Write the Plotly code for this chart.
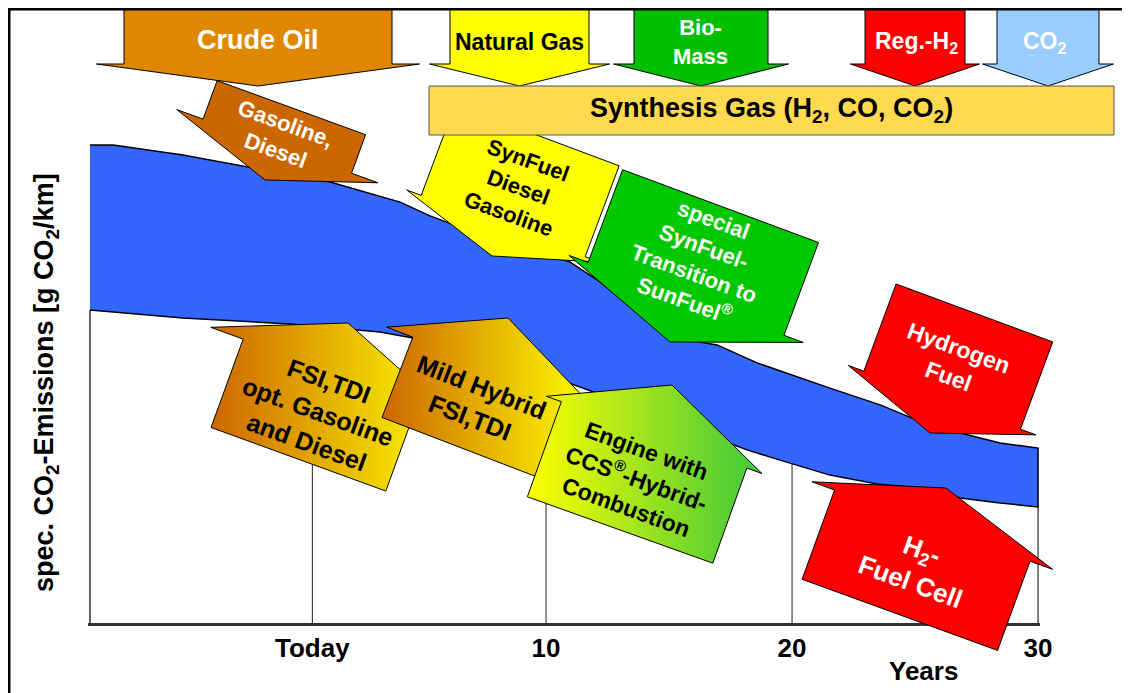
import numpy as np
import plotly.graph_objects as go

# ---------------- data (years, g CO2/km) ----------------
years_upper = [-8.54, -7.60, -4.76, -2.03, 1.22, 4.07, 5.28, 7.72, 9.76, 10.98, 12.20,
               13.82, 15.04, 16.95, 18.58, 21.54, 23.58, 24.88, 26.83, 28.46, 30.0]
co2_upper = [159.3, 159.3, 156.0, 152.0, 147.0, 140.3, 135.7, 128.3, 123.7, 120.3, 113.7,
             102.7, 95.3, 92.7, 86.7, 78.3, 72.7, 68.3, 63.3, 60.0, 58.3]
years_lower = [-8.54, -4.76, -0.41, 3.25, 4.59, 6.50, 8.54, 10.16, 11.38, 12.60, 14.63,
               16.79, 18.17, 19.51, 21.54, 23.46, 25.20, 26.83, 28.46, 30.0]
co2_lower = [104.3, 101.7, 99.7, 97.0, 95.0, 91.7, 87.0, 82.3, 78.7, 75.0, 68.3,
             62.0, 57.7, 54.3, 49.3, 46.3, 45.0, 41.7, 40.0, 38.7]
tick_years = [0.5, 10, 20, 30]
tick_labels = ["Today", "10", "20", "30"]

# ---------------- layout geometry (page pixels; the page body adds an 8px offset) ----------------
FONT = "Liberation Sans, Arial, Helvetica, sans-serif"
OFF = 8
W, H = 1130 - OFF, 693 - OFF
PLOT_L, PLOT_R, PLOT_T, PLOT_B = 88, 1040, 8, 623      # page pixel box of the plot area
ML, MR, MT, MB = PLOT_L - OFF, (W + OFF) - PLOT_R, PLOT_T - OFF, (H + OFF) - PLOT_B
PW, PH = PLOT_R - PLOT_L, PLOT_B - PLOT_T
PX_PER_YEAR = 24.6
PX_PER_UNIT = 3.0
X0 = -8.62
X1 = X0 + PW / PX_PER_YEAR
Y1 = PH / PX_PER_UNIT


def paper(px, py):
    return (px - PLOT_L) / PW, (PLOT_B - py) / PH


def to_data(px, py):
    return X0 + (px - PLOT_L) / PX_PER_YEAR, (PLOT_B - py) / PX_PER_UNIT


def arrow_pts(tip, w, lb, hw, lh, ang, up=False):
    t = np.radians(ang)
    u = np.array([np.cos(t), np.sin(t)])
    p = np.array([-np.sin(t), np.cos(t)])
    if up:
        p = -p
    T = np.array(tip, float)
    h = T - lh * p
    b = T - (lh + lb) * p
    return [T, h + hw / 2 * u, h + w / 2 * u, b + w / 2 * u,
            b - w / 2 * u, h - w / 2 * u, h - hw / 2 * u]


def path_of(pts):
    s = []
    for i, (px, py) in enumerate(pts):
        x, y = paper(px, py)
        s.append(("M" if i == 0 else "L") + f"{x:.5f},{y:.5f}")
    return " ".join(s) + " Z"


fig = go.Figure()

# gridlines up to the band
for ty in tick_years[:-1]:
    top = float(np.interp(ty, years_lower, co2_lower))
    fig.add_trace(go.Scatter(x=[ty, ty], y=[0, top], mode="lines",
                             line=dict(color="#222222", width=1), hoverinfo="skip"))
fig.add_trace(go.Scatter(x=[years_lower[0], years_lower[0]], y=[0, co2_lower[0]], mode="lines",
                         line=dict(color="#333333", width=1.5), hoverinfo="skip"))
fig.add_trace(go.Scatter(x=[tick_years[-1], tick_years[-1]], y=[0, co2_lower[-1]], mode="lines",
                         line=dict(color="#555555", width=1.5), hoverinfo="skip"))

# emission band
fig.add_trace(go.Scatter(
    x=years_upper + years_lower[::-1], y=co2_upper + co2_lower[::-1],
    mode="lines", fill="toself", fillcolor="#3366FF",
    line=dict(color="black", width=1.5), hoverinfo="skip"))

# gradient arrows (traces)
grad_arrows = [
    dict(tip=(348, 323), w=186, lb=94, hw=255, lh=51, ang=20, cs=["#CC6600", "#FFFF00"]),
    dict(tip=(508, 318), w=164, lb=86, hw=220, lh=52, ang=21, cs=["#CC6600", "#FFFF00"]),
    dict(tip=(672, 385), w=197, lb=101, hw=229, lh=53, ang=19.7, cs=["#FFFF00", "#3CC83C"]),
]
for a in grad_arrows:
    pts = arrow_pts(a["tip"], a["w"], a["lb"], a["hw"], a["lh"], a["ang"], up=True)
    pts = pts + [pts[0]]
    xs, ys = zip(*[to_data(px, py) for px, py in pts])
    fig.add_trace(go.Scatter(
        x=list(xs), y=list(ys), mode="lines", fill="toself",
        fillgradient=dict(type="horizontal", colorscale=[[0, a["cs"][0]], [1, a["cs"][1]]]),
        line=dict(color="black", width=1), hoverinfo="skip"))

shapes = []


def add_arrow(tip, w, lb, hw, lh, ang, fill, up=False):
    shapes.append(dict(type="path", xref="paper", yref="paper",
                       path=path_of(arrow_pts(tip, w, lb, hw, lh, ang, up)),
                       fillcolor=fill, line=dict(color="black", width=1), layer="above"))


# gasoline arrow (below crude oil)
add_arrow((265, 180), 158, 41, 214, 36, 20, "#CC6600")
# top feedstock arrows
for cx, bw, hw, col in [(258, 268, 323, "#DF8700"), (519.5, 139, 180, "#FFFF00"),
                        (701, 134, 175, "#00C000"), (915, 100, 129, "#FF0000"),
                        (1048, 102, 131, "#99CCFF")]:
    add_arrow((cx, 86), bw, 58, hw, 22, 0, col)
# synfuel (under box)
add_arrow((492, 256), 175, 97, 206, 32, 20.5, "#FFFF00")
# synthesis gas box
bx0, by0 = paper(429, 135)
bx1, by1 = paper(1114, 86)
shapes.append(dict(type="rect", xref="paper", yref="paper", x0=bx0, y0=by0, x1=bx1, y1=by1,
                   fillcolor="#FFD94F", line=dict(color="#555555", width=1), layer="above"))
add_arrow((670, 342), 209, 99, 250, 46, 20.4, "#00C800")
add_arrow((930, 433), 167, 93, 200, 35, 20.3, "#FF0000")
add_arrow((946, 488), 208, 95, 256, 40, 20, "#FF0000", up=True)
# outer frame (top & left visible)
fx0, fy0 = paper(9, 720)
fx1, fy1 = paper(1160, 9)
shapes.append(dict(type="rect", xref="paper", yref="paper", x0=fx0, y0=fy0, x1=fx1, y1=fy1,
                   line=dict(color="black", width=3), fillcolor="rgba(0,0,0,0)", layer="above"))

annotations = []


def ann(text, px, py, size, color="black", angle=0):
    x, y = paper(px, py)
    annotations.append(dict(text="<b>" + text + "</b>", x=x, y=y, xref="paper", yref="paper",
                            showarrow=False, xanchor="center", yanchor="middle",
                            textangle=angle, font=dict(family=FONT, size=size, color=color)))


ann("Crude Oil", 258, 40, 27, "white")
ann("Natural Gas", 519, 42, 23)
ann("Bio-<br>Mass", 700, 42, 22, "white")
ann("Reg.-H<sub>2</sub>", 916, 43, 23, "white")
ann("CO<sub>2</sub>", 1045, 42, 23, "white")
ann("Synthesis Gas (H<sub>2</sub>, CO, CO<sub>2</sub>)", 771, 110, 27)
ann("Gasoline,<br>Diesel", 280, 137, 22, "white", 20)
ann("SynFuel<br>Diesel<br>Gasoline", 518, 187, 22, "black", 20)
ann("special<br>SynFuel-<br>Transition to<br>SunFuel<sup>®</sup>", 699, 260, 22, "white", 20)
ann("Hydrogen<br>Fuel", 953, 362, 23, "white", 20)
ann("FSI,TDI<br>opt. Gasoline<br>and Diesel", 318, 411, 25, "black", 20)
ann("Mild Hybrid<br>FSI,TDI", 476, 402, 25, "black", 21)
ann("Engine with<br>CCS<sup>®</sup>-Hybrid-<br>Combustion", 636, 479, 23, "black", 20)
ann("H<sub>2</sub>-<br>Fuel Cell", 916, 566, 26, "white", 20)
ann("Years", 923, 671, 26)
ann("spec. CO<sub>2</sub>-Emissions [g CO<sub>2</sub>/km]", 46, 383, 27, "black", -90)

fig.update_layout(
    width=W, height=H, margin=dict(l=ML, r=MR, t=MT, b=MB, pad=0),
    paper_bgcolor="white", plot_bgcolor="white", showlegend=False,
    shapes=shapes, annotations=annotations,
    xaxis=dict(range=[X0, X1], tickvals=tick_years, ticktext=["<b>" + t + "</b>" for t in tick_labels],
               tickfont=dict(family=FONT, size=26, color="black"), ticks="",
               showline=True, linecolor="#333333", linewidth=2.5, showgrid=False, zeroline=False,
               fixedrange=True),
    yaxis=dict(range=[0, Y1], visible=False, showgrid=False, zeroline=False, fixedrange=True),
)

fig.write_html("out.html")
